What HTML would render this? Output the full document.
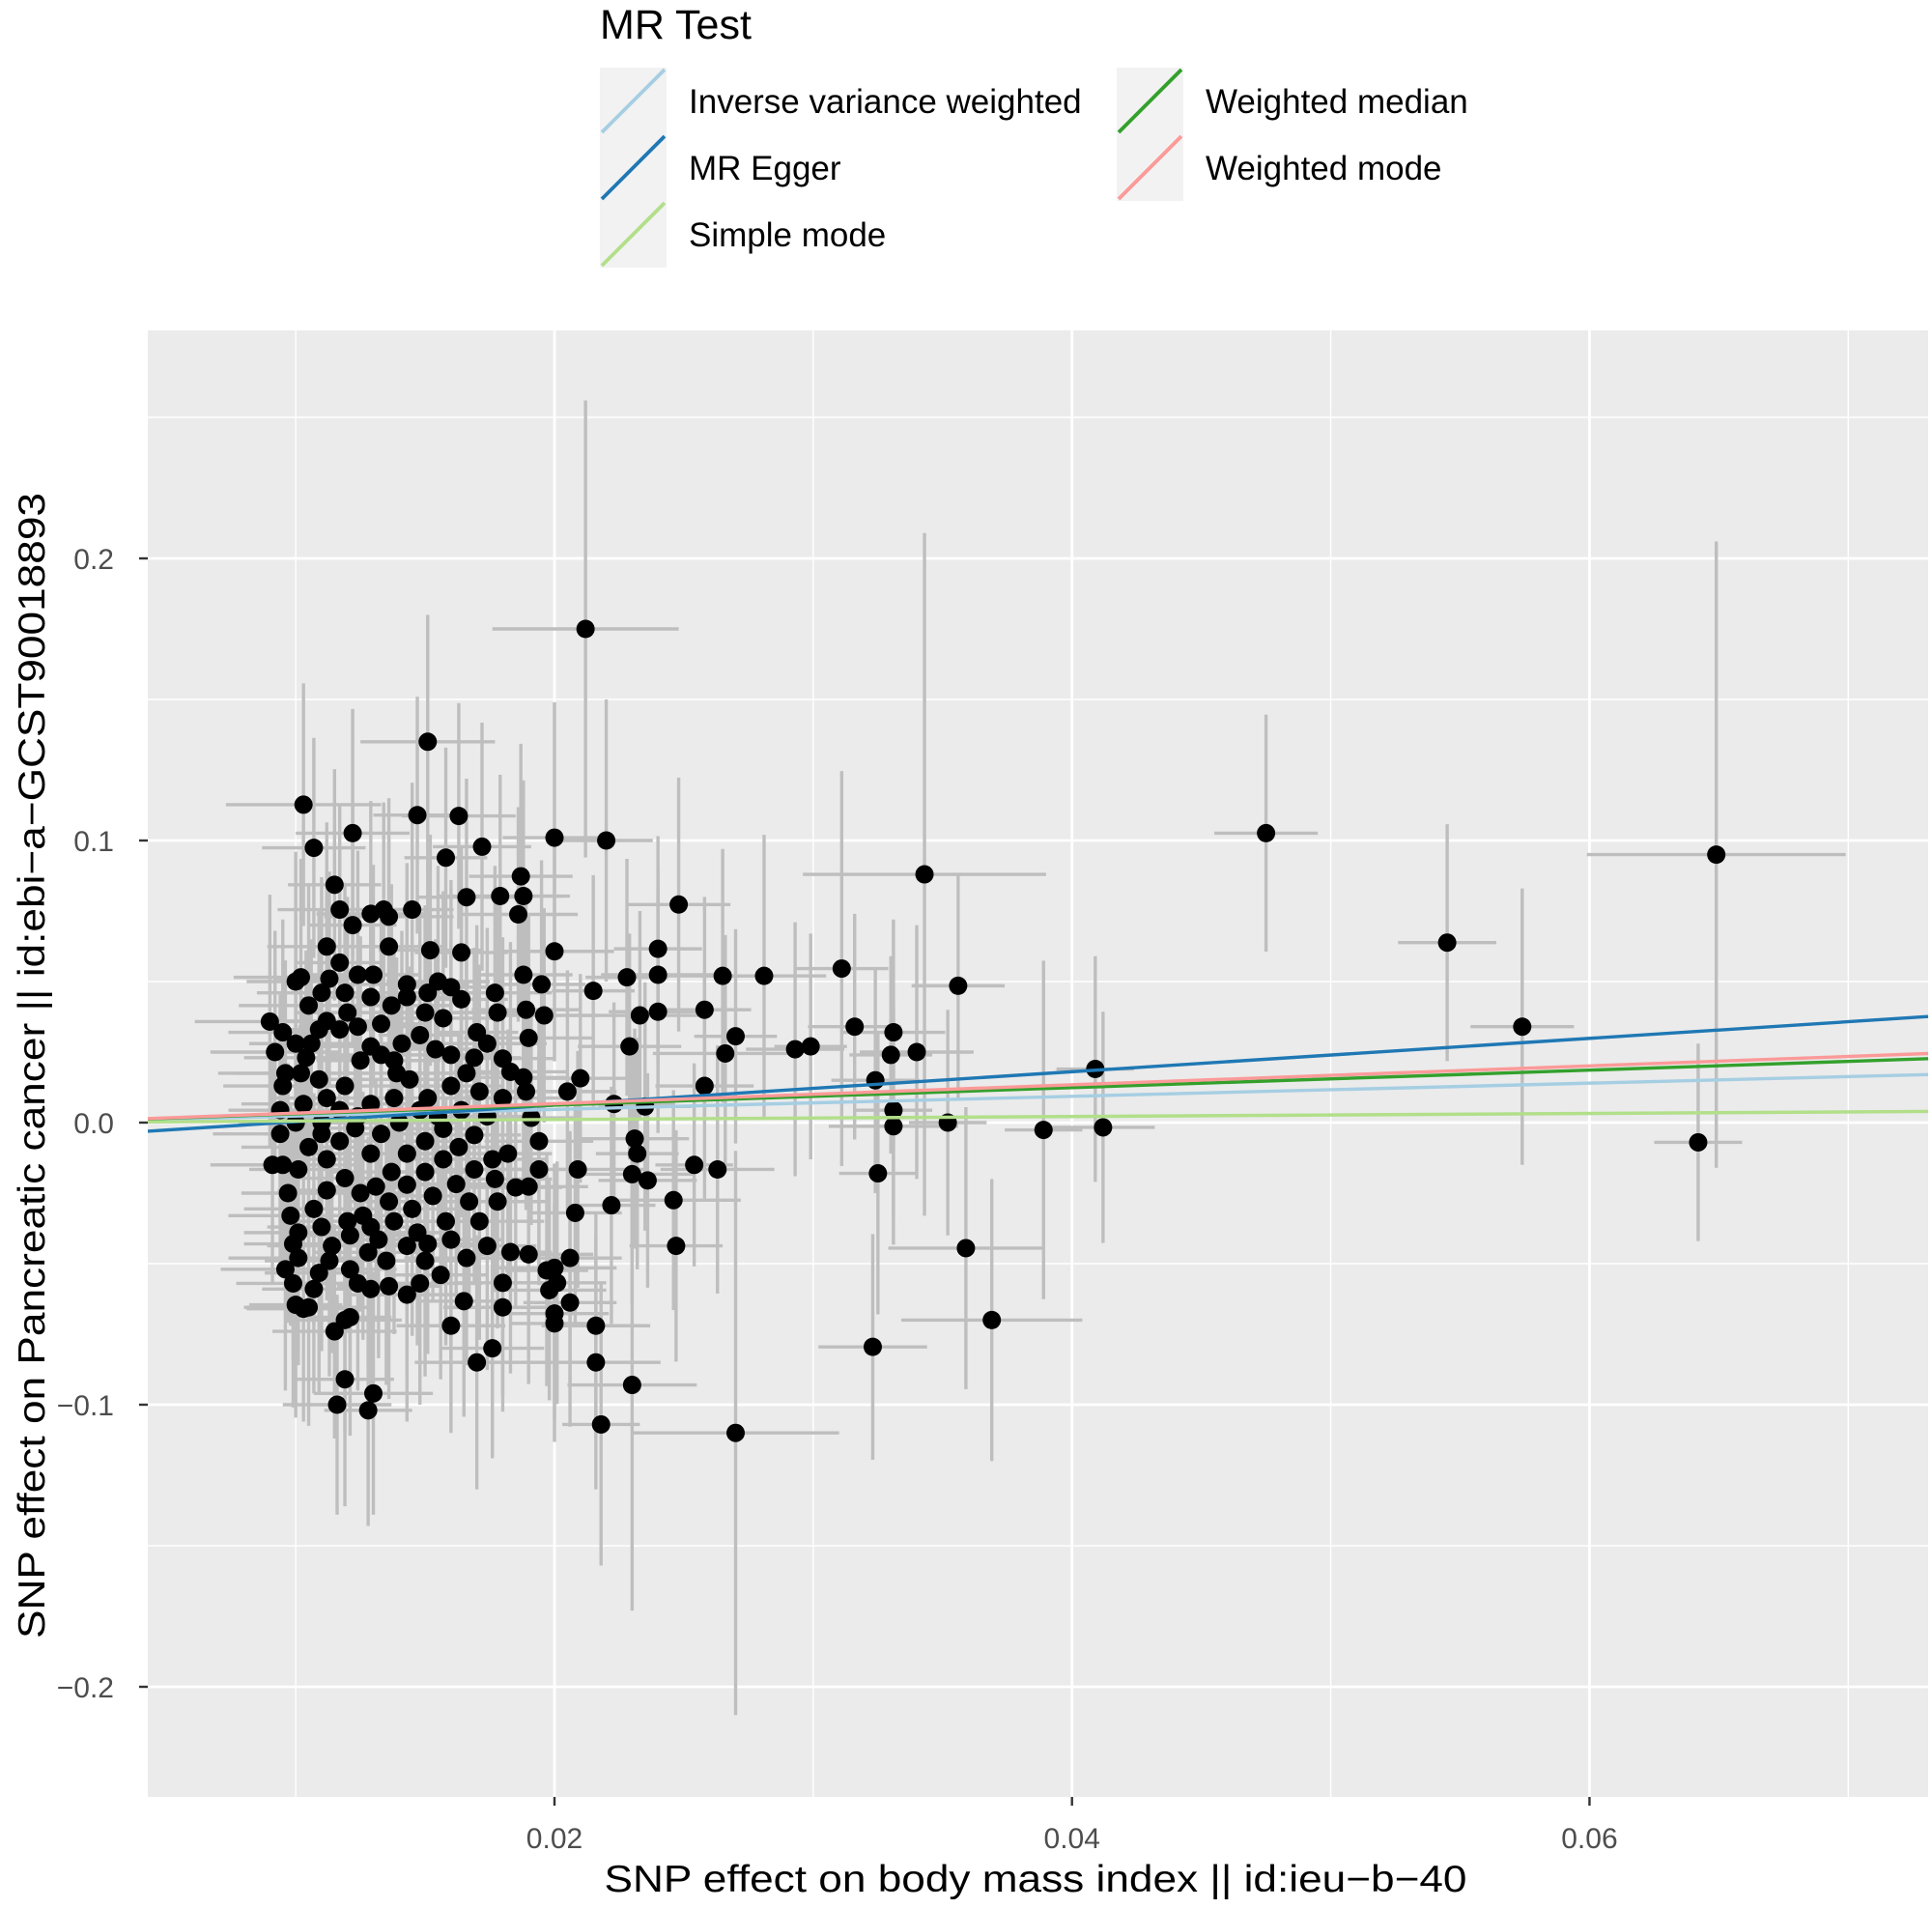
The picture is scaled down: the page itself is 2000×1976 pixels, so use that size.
<!DOCTYPE html>
<html><head><meta charset="utf-8"><title>MR scatter plot</title>
<style>
html,body{margin:0;padding:0;background:#fff;}
svg{display:block;font-family:"Liberation Sans",Arial,sans-serif;}
</style></head>
<body>
<svg id="chart" width="2000" height="1976" viewBox="0 0 2000 1976" xmlns="http://www.w3.org/2000/svg">
  <g id="legend">
    <text x="621" y="40" font-size="43" fill="#000">MR Test</text>
  </g>
  <rect x="153" y="342" width="1843" height="1518" fill="#ebebeb"/>
  <g id="grid"></g>
  <g id="errbars"></g>
  <g id="points"></g>
  <g id="lines"></g>
  <g id="axes"></g>
  <text x="1072" y="1958" font-size="39" text-anchor="middle" textLength="893" lengthAdjust="spacingAndGlyphs" fill="#000">SNP effect on body mass index || id:ieu−b−40</text>
  <text transform="translate(46,1103) rotate(-90)" font-size="39" text-anchor="middle" textLength="1186" lengthAdjust="spacingAndGlyphs" fill="#000">SNP effect on Pancreatic cancer || id:ebi−a−GCST90018893</text>
</svg>
<script>
// ---- data ----
const xMajorTicks = [0.02, 0.04, 0.06];
const xTickLabels = ["0.02", "0.04", "0.06"];
const xMinorTicks = [0.01, 0.03, 0.05, 0.07];
const yMajorTicks = [-0.2, -0.1, 0.0, 0.1, 0.2];
const yTickLabels = ["−0.2", "−0.1", "0.0", "0.1", "0.2"];
const yMinorTicks = [-0.15, -0.05, 0.05, 0.15, 0.25];

const methodNames = ["Inverse variance weighted", "MR Egger", "Simple mode", "Weighted median", "Weighted mode"];
const methodColors = ["#a6cee3", "#1f78b4", "#b2df8a", "#33a02c", "#fb9a99"];
const methodSlopes = [0.233, 0.591, 0.054, 0.31, 0.335];
const methodIntercepts = [0, -0.0056, 0, 0, 0];

const bx = [
0.0212,0.0475,0.0649,0.0545,0.0574,0.0642,0.0343,0.0356,0.0409,0.0412,
0.0389,0.0352,0.0359,0.0369,0.0323,0.0325,0.0270,0.0218,0.0230,0.0311,
0.0316,0.0331,0.0330,0.0340,0.0324,0.0331,0.0331,0.0293,0.0299,0.0281,
0.0265,0.0258,0.0270,0.0266,0.0258,0.0263,0.0254,0.0247,0.0246,0.0248,
0.0240,0.0240,0.0240,0.0233,0.0228,0.0229,0.0223,0.0235,0.0231,0.0232,
0.0230,0.0236,0.0222,0.0216,0.0216,0.0220,0.0200,0.0215,0.0210,0.0205,
0.0200,0.0195,0.0196,0.0209,0.0208,0.0206,0.0200,0.0197,0.0201,0.0198,
0.0206,0.0200,0.0200,0.0190,0.0180,0.0180,0.0183,0.0176,0.0170,0.0165,
0.0160,0.0151,0.0147,0.0163,0.0172,0.0158,0.0179,0.0187,0.0188,0.0186,
0.0166,0.0122,0.0103,0.0107,0.0115,0.0117,0.0122,0.0129,0.0134,0.0136,
0.0145,0.0136,0.0152,0.0164,0.0112,0.0117,0.0113,0.0102,0.0100,0.0130,
0.0143,0.0155,0.0164,0.0177,0.0178,0.0189,0.0188,0.0190,0.0170,0.0174,
0.0180,0.0169,0.0183,0.0188,0.0189,0.0191,0.0194,0.0194,0.0190,0.0185,
0.0177,0.0178,0.0167,0.0171,0.0158,0.0151,0.0150,0.0148,0.0156,0.0143,
0.0136,0.0129,0.0124,0.0135,0.0128,0.0121,0.0129,0.0119,0.0121,0.0115,
0.0119,0.0116,0.0128,0.0130,0.0107,0.0105,0.0100,0.0099,0.0101,0.0099,
0.0101,0.0098,0.0097,0.0095,0.0091,0.0101,0.0094,0.0094,0.0095,0.0092,
0.0095,0.0100,0.0104,0.0109,0.0112,0.0117,0.0120,0.0124,0.0102,0.0109,
0.0112,0.0117,0.0119,0.0125,0.0129,0.0133,0.0138,0.0141,0.0148,0.0150,
0.0157,0.0154,0.0160,0.0166,0.0160,0.0151,0.0144,0.0138,0.0129,0.0123,
0.0110,0.0105,0.0112,0.0119,0.0125,0.0131,0.0137,0.0143,0.0150,0.0157,
0.0163,0.0169,0.0174,0.0180,0.0182,0.0176,0.0169,0.0162,0.0153,0.0145,
0.0138,0.0132,0.0114,0.0110,0.0107,0.0112,0.0143,0.0150,0.0157,0.0164,
0.0171,0.0155,0.0148,0.0140,0.0133,0.0129,0.0136,0.0126,0.0120,0.0113,
0.0109,0.0121,0.0143,0.0147,0.0160,0.0166,0.0174,0.0139,0.0133,0.0137,
0.0143,0.0151,0.0160,0.0129,0.0124,0.0119,0.0110,0.0105,0.0106,0.0090,
0.0096,0.0100,0.0103,0.0110,0.0117,0.0124,0.0096,0.0103
];
const by = [
0.175,0.1026,0.095,0.0638,0.034,-0.007,0.088,0.0485,0.019,-0.0017,
-0.0026,0,-0.0445,-0.07,-0.0795,-0.018,-0.11,-0.107,-0.093,0.0546,
0.034,0.032,0.024,0.025,0.015,0.0044,-0.0013,0.026,0.027,0.052,
0.052,0.04,0.0306,0.0245,0.013,-0.0166,-0.015,-0.0437,-0.0275,0.0773,
0.0616,0.0524,0.0393,0.038,0.0515,0.027,0.0066,0.0057,-0.0057,-0.011,
-0.0183,-0.0205,-0.0293,-0.072,-0.085,0.1,0.101,0.0467,0.0157,0.011,
0.0607,0.049,0.038,-0.0166,-0.032,-0.048,-0.0515,-0.0524,-0.0568,-0.0594,
-0.0638,-0.0677,-0.0712,-0.0467,-0.0568,-0.0655,-0.0459,-0.08,-0.085,-0.0633,
-0.072,0.135,0.109,0.1087,0.0978,0.0939,0.0803,0.0873,0.0803,0.0738,
0.0799,0.1026,0.1127,0.0974,0.0843,0.0755,0.07,0.074,0.0755,0.073,
0.0755,0.0624,0.0611,0.0603,0.0624,0.0567,0.051,0.0515,0.05,0.0524,
0.049,0.05,0.0437,0.046,0.039,0.04,0.0524,0.03,0.032,0.028,
0.0227,0.023,0.018,0.016,0.011,0.0017,-0.0066,-0.0166,-0.0227,-0.023,
-0.02,-0.028,-0.028,-0.035,-0.035,-0.043,-0.049,-0.057,-0.054,-0.061,
-0.058,-0.059,-0.057,-0.049,-0.046,-0.04,-0.037,-0.07,-0.069,-0.074,
-0.091,-0.1,-0.102,-0.096,-0.059,-0.0655,-0.0646,-0.057,-0.048,-0.043,
-0.039,-0.033,-0.025,-0.015,-0.015,-0.0166,-0.004,0.0044,0.013,0.025,
0.032,0.028,0.023,0.033,0.036,0.033,0.039,0.034,0.0175,0.0153,
0.0087,0.0044,0.013,0.022,0.027,0.024,0.022,0.028,0.031,0.039,
0.037,0.026,0.024,0.0175,0.013,0.0087,0.0153,0.0087,0.0066,-0.002,
-0.004,-0.0087,-0.013,-0.0197,-0.025,-0.0227,-0.0175,-0.011,-0.0066,-0.0022,
-0.0087,-0.0044,0.0022,0.0087,-0.011,-0.013,-0.0166,-0.0218,-0.026,-0.0306,
-0.035,-0.0415,-0.0437,-0.037,-0.0306,-0.024,-0.022,-0.0175,-0.013,0.0044,
0.011,0.0022,0.0044,0,-0.004,-0.011,-0.028,-0.033,-0.035,-0.049,
-0.0533,-0.052,-0.0437,-0.039,-0.0415,-0.048,-0.0437,0.0175,0.035,0.0415,
0.0445,0.046,0.048,0.0445,0.0524,0.046,0.046,0.0415,0.028,0.0358,
0.0175,0,0.0066,0,-0.0066,0.0022,-0.052,-0.066
];
const sex = [
0.0036,0.002,0.005,0.0019,0.002,0.0017,0.0047,0.0018,0.0015,0.002,
0.0015,0.0015,0.003,0.0035,0.0021,0.0015,0.004,0.0015,0.0025,0.0018,
0.0018,0.002,0.0016,0.0022,0.0017,0.0015,0.0025,0.0019,0.0014,0.0024,
0.0021,0.0018,0.0016,0.0028,0.0019,0.0022,0.0015,0.0018,0.0026,0.0020,
0.0017,0.0022,0.0019,0.0027,0.0016,0.0020,0.0023,0.0018,0.0021,0.0016,
0.0024,0.0019,0.0017,0.0021,0.0025,0.0018,0.0020,0.0016,0.0022,0.0019,
0.0023,0.0017,0.0021,0.0026,0.0018,0.0020,0.0024,0.0016,0.0019,0.0022,
0.0018,0.0021,0.0017,0.0025,0.0019,0.0023,0.0016,0.0020,0.0024,0.0018,
0.0021,0.0026,0.0017,0.0022,0.0019,0.0016,0.0024,0.0020,0.0018,0.0023,
0.0019,0.0022,0.0030,0.0020,0.0018,0.0024,0.0017,0.0021,0.0019,0.0025,
0.0016,0.0022,0.0020,0.0018,0.0023,0.0017,0.0021,0.0026,0.0019,0.0016,
0.0024,0.0020,0.0018,0.0022,0.0017,0.0021,0.0019,0.0025,0.0016,0.0023,
0.0020,0.0018,0.0022,0.0017,0.0024,0.0019,0.0021,0.0016,0.0023,0.0018,
0.0022,0.0020,0.0017,0.0025,0.0019,0.0021,0.0016,0.0024,0.0018,0.0022,
0.0020,0.0017,0.0023,0.0019,0.0021,0.0026,0.0018,0.0022,0.0016,0.0024,
0.0019,0.0021,0.0017,0.0023,0.0020,0.0025,0.0018,0.0022,0.0027,0.0019,
0.0021,0.0024,0.0018,0.0028,0.0022,0.0019,0.0026,0.0020,0.0023,0.0025,
0.0021,0.0018,0.0024,0.0019,0.0022,0.0017,0.0020,0.0023,0.0026,0.0018,
0.0021,0.0019,0.0024,0.0017,0.0022,0.0020,0.0018,0.0025,0.0016,0.0021,
0.0019,0.0023,0.0017,0.0022,0.0020,0.0018,0.0024,0.0016,0.0021,0.0019,
0.0023,0.0026,0.0018,0.0022,0.0020,0.0017,0.0024,0.0019,0.0021,0.0016,
0.0022,0.0018,0.0020,0.0024,0.0017,0.0021,0.0019,0.0023,0.0016,0.0022,
0.0020,0.0018,0.0025,0.0021,0.0027,0.0019,0.0022,0.0017,0.0020,0.0023,
0.0018,0.0021,0.0016,0.0024,0.0019,0.0022,0.0017,0.0020,0.0023,0.0025,
0.0021,0.0018,0.0022,0.0016,0.0020,0.0024,0.0019,0.0021,0.0017,0.0023,
0.0019,0.0022,0.0018,0.0020,0.0024,0.0021,0.0025,0.0027,0.0023,0.0029,
0.0026,0.0022,0.0024,0.0020,0.0018,0.0021,0.0025,0.0022
];
const sey = [
0.081,0.042,0.111,0.042,0.049,0.035,0.121,0.04,0.04,0.041,
0.06,0.04,0.05,0.05,0.04,0.05,0.1,0.05,0.08,0.07,
0.04,0.04,0.035,0.045,0.04,0.038,0.042,0.045,0.04,0.05,
0.045,0.04,0.038,0.042,0.04,0.044,0.036,0.041,0.039,0.045,
0.04,0.038,0.043,0.037,0.042,0.04,0.036,0.044,0.039,0.041,
0.046,0.038,0.042,0.04,0.045,0.05,0.048,0.041,0.037,0.043,
0.039,0.044,0.038,0.042,0.04,0.045,0.037,0.041,0.043,0.039,
0.044,0.038,0.042,0.046,0.04,0.037,0.043,0.039,0.045,0.041,
0.038,0.045,0.042,0.04,0.044,0.039,0.043,0.047,0.041,0.038,
0.042,0.044,0.043,0.039,0.041,0.037,0.043,0.04,0.038,0.042,
0.045,0.039,0.041,0.037,0.044,0.04,0.038,0.042,0.046,0.039,
0.043,0.041,0.037,0.045,0.039,0.042,0.04,0.044,0.038,0.041,
0.043,0.039,0.046,0.04,0.042,0.038,0.044,0.041,0.039,0.043,
0.04,0.045,0.038,0.042,0.044,0.039,0.041,0.043,0.037,0.045,
0.04,0.042,0.038,0.044,0.041,0.039,0.043,0.04,0.042,0.038,
0.045,0.039,0.041,0.043,0.037,0.042,0.04,0.044,0.038,0.041,
0.043,0.039,0.046,0.04,0.042,0.038,0.044,0.041,0.039,0.043,
0.04,0.045,0.038,0.042,0.044,0.039,0.041,0.043,0.037,0.045,
0.04,0.042,0.038,0.044,0.041,0.039,0.043,0.04,0.042,0.038,
0.045,0.039,0.041,0.043,0.037,0.042,0.04,0.044,0.038,0.041,
0.043,0.039,0.046,0.04,0.042,0.038,0.044,0.041,0.039,0.043,
0.04,0.045,0.038,0.042,0.044,0.039,0.041,0.043,0.037,0.045,
0.04,0.042,0.038,0.044,0.041,0.039,0.043,0.04,0.042,0.038,
0.045,0.039,0.041,0.043,0.037,0.042,0.04,0.044,0.038,0.041,
0.043,0.039,0.046,0.04,0.042,0.038,0.044,0.041,0.039,0.043,
0.04,0.045,0.038,0.042,0.044,0.039,0.041,0.043,0.037,0.045,
0.04,0.042,0.038,0.044,0.041,0.039,0.043,0.04
];

// ---- scales ----
const PL = 153, PR = 1996, PT = 342, PB = 1860;
const X0 = 0.02, XPX = 574, XK = 26786;
const Y0PX = 1162, YK = 2920;
function sx(v){ return XPX + (v - X0) * XK; }
function sy(v){ return Y0PX - v * YK; }
const xMin = X0 + (PL - XPX) / XK, xMax = X0 + (PR - XPX) / XK;

const NS = "http://www.w3.org/2000/svg";
function mk(tag, attrs, parent){
  const e = document.createElementNS(NS, tag);
  for (const k in attrs) e.setAttribute(k, attrs[k]);
  parent.appendChild(e);
  return e;
}

// grid
const grid = document.getElementById('grid');
xMinorTicks.forEach(v => {
  const l = mk('line', {x1: sx(v), x2: sx(v), y1: PT, y2: PB, stroke: '#fff', 'stroke-width': 1.4}, grid);
  
  
});
yMinorTicks.forEach(v => {
  if (sy(v) < PT) return;
  const l = mk('line', {x1: PL, x2: PR, y1: sy(v), y2: sy(v), stroke: '#fff', 'stroke-width': 1.4}, grid);
  
  
});
xMajorTicks.forEach(v => {
  const l = mk('line', {x1: sx(v), x2: sx(v), y1: PT, y2: PB, stroke: '#fff', 'stroke-width': 2.8}, grid);
  
  
});
yMajorTicks.forEach(v => {
  const l = mk('line', {x1: PL, x2: PR, y1: sy(v), y2: sy(v), stroke: '#fff', 'stroke-width': 2.8}, grid);
  
  
});

// error bars
const eb = document.getElementById('errbars');
for (let i = 0; i < bx.length; i++){
  const sxe = sex[i] ?? 0.002, sye = sey[i] ?? 0.04;
  const v = mk('line', {x1: sx(bx[i]), x2: sx(bx[i]), y1: sy(by[i] - sye), y2: sy(by[i] + sye), stroke: '#bebebe', 'stroke-width': 3.4}, eb);
  
  
  const h = mk('line', {x1: sx(bx[i] - sxe), x2: sx(bx[i] + sxe), y1: sy(by[i]), y2: sy(by[i]), stroke: '#bebebe', 'stroke-width': 3.4}, eb);
  
  
}
// points
const pg = document.getElementById('points');
for (let i = 0; i < bx.length; i++){
  const c = mk('circle', {cx: sx(bx[i]), cy: sy(by[i]), r: 9.5, fill: '#000'}, pg);
  
  
}
// regression lines
const lg = document.getElementById('lines');
const legend = document.getElementById('legend');
const legendPos = [[621,70],[621,139],[621,208],[1156,70],[1156,139]];
methodNames.forEach((name, i) => {
  const a = methodIntercepts[i], b = methodSlopes[i];
  const l = mk('line', {x1: PL, y1: sy(a + b * xMin), x2: PR, y2: sy(a + b * xMax), stroke: methodColors[i], 'stroke-width': 3.4}, lg);
  
  
  const [kx, ky] = legendPos[i];
  const g = mk('g', {}, legend);
  
  
  const r = mk('rect', {x: kx, y: ky, width: 69, height: 69, fill: '#f2f2f2'}, g);
  
  
  const kl = mk('line', {x1: kx + 2, y1: ky + 67, x2: kx + 67, y2: ky + 2, stroke: methodColors[i], 'stroke-width': 3.8}, g);
  
  
  const t = mk('text', {x: kx + 92, y: ky + 47, 'font-size': 35, fill: '#000'}, g);
  t.textContent = name;
  
  
});

// axes ticks and labels
const ax = document.getElementById('axes');
xMajorTicks.forEach((v, i) => {
  const tk = mk('line', {x1: sx(v), x2: sx(v), y1: PB, y2: PB + 9, stroke: '#333', 'stroke-width': 2.4}, ax);
  
  
  const t = mk('text', {x: sx(v), y: 1913, 'font-size': 30, fill: '#4d4d4d', 'text-anchor': 'middle'}, ax);
  t.textContent = xTickLabels[i];
  
  
});
yMajorTicks.forEach((v, i) => {
  const tk = mk('line', {x1: PL - 9, x2: PL, y1: sy(v), y2: sy(v), stroke: '#333', 'stroke-width': 2.4}, ax);
  
  
  const t = mk('text', {x: 118, y: sy(v) + 11, 'font-size': 30, fill: '#4d4d4d', 'text-anchor': 'end'}, ax);
  t.textContent = yTickLabels[i];
  
  
});
</script>
</body></html>
